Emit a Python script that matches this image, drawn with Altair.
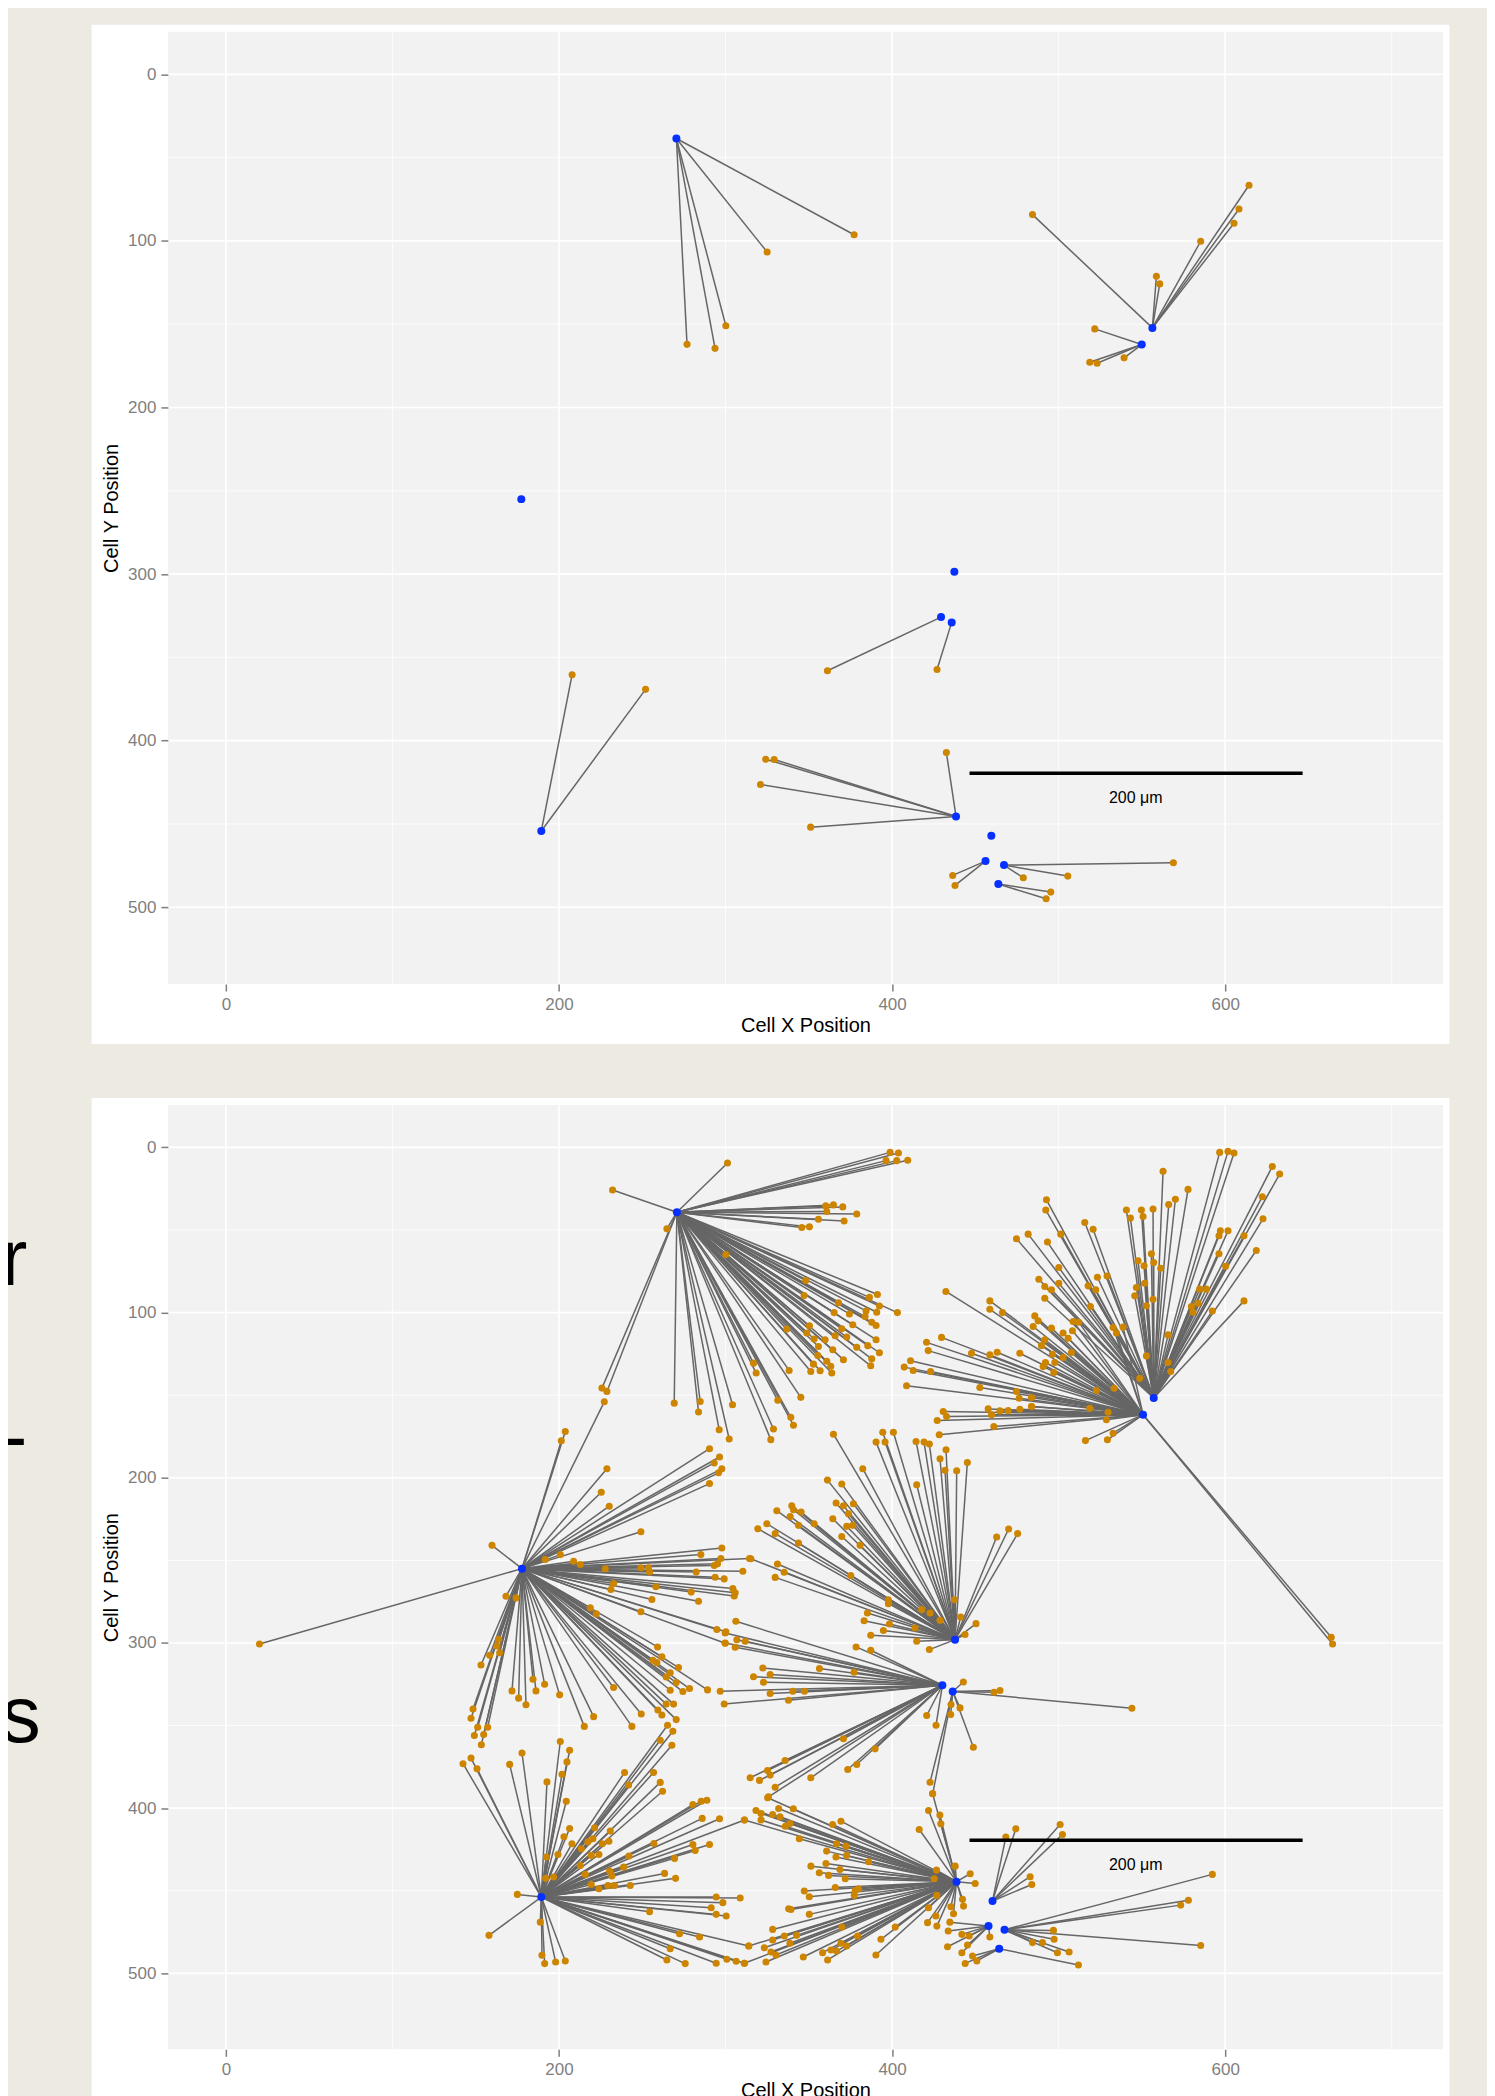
import altair as alt
import pandas as pd

BG = "#EDEAE2"
PANEL = "#F2F2F2"
ORANGE = "#CD8500"
BLUE = "#0530FF"
LINK = "#666666"

X_DOMAIN = [-34.8, 730.8]
TOP_Y_DOMAIN = [-25.6, 546.1]
BOT_Y_DOMAIN = [-25.7, 546.0]
X_TICKS = [0, 200, 400, 600]
Y_TICKS = [0, 100, 200, 300, 400, 500]
X_MINOR = [100, 300, 500, 700]
Y_MINOR = [50, 150, 250, 350, 450]
SCALE_BAR = [446.5, 646.5, 419.5]
SCALE_LABEL = [546.3, 434.2, "200 μm"]
SIDE_LETTERS = [("r", 180), ("-", 358), ("s", 637)]

# ---------------- top panel: cells (blue) and their linked neighbours (orange)
TOP_CELLS = [(270.5, 38.5), (556.3, 152.2), (549.9, 162.2), (177.4, 255.0),
             (437.4, 298.6), (429.4, 325.8), (435.8, 329.0), (189.4, 454.2),
             (438.4, 445.5), (459.6, 457.1), (456.1, 472.3), (467.2, 474.7),
             (463.8, 486.1)]
TOP_LINKS = [
    [(377.2, 96.3), (325.0, 106.7), (300.2, 150.9), (276.9, 162.1), (293.7, 164.5)],
    [(484.3, 84.2), (614.3, 66.6), (608.3, 80.8), (605.3, 89.4), (585.3, 100.2),
     (558.7, 121.2), (560.7, 125.8)],
    [(521.7, 152.8), (518.7, 172.8), (523.1, 173.4), (539.3, 170.2)],
    [],
    [],
    [(361.2, 358.0)],
    [(427.0, 357.3)],
    [(207.9, 360.4), (252.0, 369.2)],
    [(432.6, 407.1), (324.1, 411.1), (329.2, 411.3), (321.0, 426.3), (351.1, 451.9)],
    [],
    [(436.4, 480.9), (437.8, 486.9)],
    [(568.9, 473.3), (478.8, 482.3), (505.5, 481.3)],
    [(495.3, 490.9), (492.5, 494.9)],
]

# ---------------- bottom panel
BOTTOM_CELLS = [(270.8, 39.2), (557.1, 151.7), (550.7, 161.8), (177.8, 255.0),
                (437.8, 298.0), (430.2, 325.6), (436.4, 329.4), (189.4, 453.8),
                (438.7, 444.5), (460.3, 456.2), (457.9, 471.4), (467.5, 473.6),
                (464.3, 485.1)]
BOTTOM_LINKS = [
    # A
    [(301.2, 9.4), (232.2, 25.8), (398.8, 3.0), (403.8, 3.4), (396.4, 8.0), (402.8, 8.0),
     (409.4, 7.8), (360.2, 35.4), (364.8, 34.8), (370.4, 36.0), (360.8, 38.8), (378.8, 40.3),
     (355.8, 43.5), (371.2, 44.5), (345.8, 48.5), (350.4, 48.1), (264.8, 49.3), (300.2, 64.9),
     (348.2, 80.6), (347.2, 89.7), (391.2, 89.0), (386.4, 90.8), (392.4, 96.0), (367.8, 94.0),
     (403.2, 100.0), (365.2, 100.0), (374.4, 100.8), (384.4, 99.0), (390.8, 99.8),
     (383.8, 102.4), (387.8, 105.8), (390.4, 107.8), (376.4, 107.4), (336.8, 110.0),
     (350.4, 108.0), (348.8, 112.4), (353.2, 116.0), (359.8, 116.4), (365.8, 114.0),
     (369.8, 109.8), (372.8, 114.8), (378.8, 121.0), (385.4, 120.0), (390.4, 116.4),
     (392.4, 124.3), (387.8, 128.0), (387.2, 132.2), (370.8, 128.5), (364.4, 122.5),
     (355.8, 120.5), (355.4, 126.0), (352.8, 131.2), (360.8, 129.5), (363.2, 132.5),
     (363.8, 136.6), (356.8, 135.2), (351.2, 135.6), (338.2, 135.0), (316.8, 130.6),
     (318.4, 136.6), (345.2, 151.3), (331.4, 153.1), (339.2, 163.4), (340.8, 168.2),
     (328.8, 170.5), (327.2, 176.9), (304.2, 155.8), (284.8, 153.8), (283.8, 160.2),
     (269.2, 154.8), (296.2, 170.9), (302.2, 176.5), (225.8, 145.7), (228.8, 147.7)],
    # B1
    [(596.7, 3.0), (601.7, 2.4), (605.3, 3.4), (628.3, 11.5), (632.7, 16.1), (562.7, 14.5),
     (577.7, 25.4), (570.1, 31.4), (566.1, 34.6), (540.7, 37.9), (549.7, 37.9), (556.7, 37.3),
     (543.1, 42.8), (550.7, 41.8), (622.3, 29.9), (622.7, 43.2), (597.1, 50.5), (601.7, 50.5),
     (596.3, 53.5), (611.3, 53.5), (618.7, 62.4), (596.3, 64.4), (600.3, 71.9), (555.7, 64.4),
     (547.7, 68.6), (557.1, 69.7), (551.3, 71.7), (561.3, 73.1), (546.7, 84.8), (551.7, 82.2),
     (545.7, 89.8), (556.7, 91.9), (552.7, 95.9), (584.7, 85.8), (588.7, 85.8), (583.7, 94.3),
     (579.7, 96.3), (580.7, 99.8), (592.3, 99.0), (611.3, 92.9), (565.7, 113.5), (552.7, 126.2),
     (565.7, 130.2), (567.3, 135.7), (548.7, 139.8), (492.7, 31.7), (492.3, 37.9), (515.7, 45.4),
     (520.7, 49.5), (474.7, 55.3), (481.7, 52.5), (493.3, 57.3), (501.3, 52.5), (500.1, 72.7),
     (488.1, 79.8), (491.7, 84.2), (495.7, 86.2), (500.1, 82.2), (523.3, 78.6), (529.1, 77.8),
     (517.7, 83.8), (522.3, 86.2), (491.7, 91.3), (519.1, 96.3)],
    # B2
    [(432.3, 87.2), (458.7, 92.9), (458.7, 98.0), (466.3, 100.0), (485.7, 102.0), (487.7, 105.0),
     (484.7, 108.4), (495.7, 109.4), (502.7, 112.4), (508.7, 105.4), (512.1, 105.8), (508.3, 111.0),
     (505.7, 115.5), (532.7, 109.0), (534.7, 112.4), (538.7, 108.8), (491.7, 116.5), (489.7, 120.0),
     (496.3, 125.2), (502.7, 127.2), (507.7, 124.2), (492.1, 130.2), (490.7, 132.7), (497.7, 130.2),
     (497.1, 136.3), (429.7, 115.0), (420.7, 118.0), (421.7, 123.0), (411.1, 129.2), (407.3, 133.0),
     (412.7, 135.0), (423.1, 135.7), (408.7, 144.3), (447.7, 124.6), (458.7, 125.6), (463.1, 124.0),
     (476.7, 124.6), (452.7, 145.3), (474.7, 147.8), (476.3, 151.8), (483.7, 151.4), (483.7, 156.8),
     (522.7, 147.2), (533.3, 145.8), (430.7, 159.9), (432.7, 162.9), (427.1, 165.3), (457.7, 158.3),
     (459.7, 161.9), (464.7, 159.5), (469.7, 159.3), (476.7, 158.5), (483.8, 156.8), (518.7, 157.9),
     (529.7, 160.3), (528.7, 164.9), (428.3, 174.0), (461.1, 169.0), (516.1, 177.5), (529.3, 177.0),
     (532.7, 173.0), (663.7, 296.6), (664.5, 300.6)],
    # L
    [(20.2, 300.6), (159.8, 240.9), (203.8, 172.0), (201.4, 177.6), (227.2, 154.0), (228.8, 194.5),
     (225.4, 208.8), (230.2, 217.2), (249.2, 232.7), (290.4, 182.4), (296.4, 187.4), (293.2, 191.0),
     (297.8, 194.6), (295.8, 197.0), (290.4, 203.5), (191.8, 249.5), (200.8, 246.5), (208.8, 250.5),
     (212.8, 252.5), (227.8, 255.1), (249.2, 254.5), (253.8, 254.5), (254.4, 257.1), (297.8, 242.5),
     (285.2, 246.5), (297.2, 248.9), (295.2, 252.1), (293.2, 253.1), (310.4, 256.6), (282.4, 257.0),
     (293.8, 260.2), (299.2, 261.2), (314.4, 248.9), (232.8, 264.0), (231.2, 267.6), (258.2, 266.0),
     (255.8, 273.7), (279.4, 269.2), (283.8, 274.7), (304.4, 267.0), (305.8, 269.6), (305.2, 271.6),
     (249.2, 281.1), (294.8, 291.8), (300.2, 293.2), (299.8, 300.2), (218.8, 278.7), (222.4, 282.3),
     (168.2, 271.7), (174.2, 272.7), (163.8, 297.8), (162.8, 301.8), (164.4, 305.9), (158.4, 307.5),
     (153.2, 313.3), (259.2, 302.4), (256.4, 310.5), (261.8, 308.4), (258.8, 311.9), (271.8, 314.9),
     (266.8, 318.0), (264.4, 320.6), (270.4, 324.0), (266.8, 328.6), (274.4, 329.4), (278.4, 327.6),
     (289.2, 328.4), (232.8, 327.0), (249.4, 343.0), (243.8, 350.5), (220.8, 344.6), (215.2, 350.5),
     (259.4, 340.6), (264.4, 337.0), (268.8, 337.0), (261.8, 343.6), (270.4, 346.4), (200.4, 331.4),
     (184.4, 322.0), (191.4, 325.0), (186.2, 329.0), (171.8, 329.0), (175.8, 333.4), (180.2, 337.4),
     (148.4, 340.0), (147.2, 345.6), (151.2, 351.0), (157.2, 351.0), (149.2, 356.0), (154.8, 355.4),
     (153.4, 361.6)],
    # C
    [(364.8, 173.6), (394.4, 172.4), (400.8, 172.4), (390.4, 178.4), (395.8, 178.4), (414.4, 178.0),
     (419.2, 178.4), (422.4, 179.6), (432.4, 183.0), (428.8, 188.5), (431.8, 195.5), (438.8, 195.7),
     (445.2, 190.7), (382.4, 194.5), (361.2, 201.4), (369.8, 203.8), (414.8, 204.2), (366.4, 215.3),
     (370.8, 216.9), (376.8, 215.7), (373.8, 221.8), (372.8, 229.4), (376.4, 228.8), (364.4, 224.8),
     (369.8, 235.5), (380.8, 240.9), (330.8, 219.9), (339.8, 216.9), (340.8, 219.3), (345.4, 220.7),
     (338.8, 223.4), (353.2, 227.8), (343.8, 228.8), (319.4, 230.8), (324.8, 227.8), (329.8, 233.8),
     (343.8, 239.5), (315.2, 249.0), (331.2, 252.2), (335.2, 257.2), (329.8, 260.3), (375.2, 259.2),
     (397.8, 273.8), (397.8, 276.2), (417.8, 279.8), (422.8, 281.8), (428.8, 286.3), (385.2, 281.8),
     (383.2, 286.5), (398.4, 288.5), (394.8, 292.5), (387.2, 295.3), (413.8, 290.9), (414.8, 299.0),
     (422.4, 304.0), (437.4, 273.8), (441.2, 284.3), (450.4, 288.3), (443.8, 294.9), (462.8, 235.9),
     (470.0, 231.0), (475.4, 233.8)],
    # C2
    [(306.2, 286.9), (299.8, 294.0), (299.8, 300.0), (306.8, 298.0), (311.8, 299.0), (305.8, 302.6),
     (378.4, 302.4), (387.2, 304.4), (322.4, 315.1), (326.8, 319.1), (316.8, 320.5), (322.8, 323.8),
     (356.4, 315.5), (377.2, 317.7), (296.8, 329.2), (326.8, 330.6), (340.4, 329.2), (347.4, 329.2),
     (337.8, 334.7), (299.2, 336.9), (370.8, 358.0), (389.8, 364.1), (335.8, 371.1), (325.2, 377.2),
     (326.8, 380.0), (314.8, 381.6), (320.4, 383.2), (351.2, 381.6), (373.4, 376.6), (378.8, 373.6),
     (329.8, 387.3), (325.8, 393.1), (420.8, 343.9), (426.4, 349.8)],
    # C3
    [(442.8, 323.6), (461.2, 329.8), (464.8, 328.8), (435.4, 337.3), (440.8, 339.3), (435.2, 343.3),
     (448.8, 363.1), (422.8, 384.3), (424.4, 391.3), (544.0, 339.5)],
    # D
    [(265.2, 349.8), (268.4, 353.4), (260.8, 358.9), (267.8, 361.9), (239.4, 378.4), (241.8, 386.0),
     (256.8, 378.4), (260.8, 384.4), (262.2, 389.8), (280.4, 397.8), (285.4, 395.8), (288.8, 395.2),
     (200.8, 359.6), (206.4, 365.0), (204.8, 372.0), (201.8, 379.5), (192.8, 384.1), (204.4, 395.8),
     (177.8, 366.6), (170.4, 373.5), (142.4, 373.1), (147.2, 369.7), (150.8, 376.1), (286.0, 406.2),
     (296.4, 406.4), (311.4, 407.2), (206.4, 412.3), (203.0, 417.3), (221.4, 411.9), (230.8, 413.9),
     (207.8, 421.6), (213.4, 424.6), (217.4, 420.4), (220.4, 418.5), (226.0, 421.6), (230.0, 420.0),
     (192.4, 429.6), (199.4, 428.0), (219.4, 428.6), (224.0, 428.0), (242.0, 429.0), (257.0, 421.4),
     (280.4, 422.0), (281.8, 425.6), (290.4, 422.0), (269.4, 430.4), (212.8, 434.7), (215.8, 440.1),
     (230.4, 438.1), (231.8, 441.1), (238.8, 435.7), (263.4, 439.5), (270.0, 442.5), (192.0, 442.5),
     (196.8, 441.7), (219.4, 446.2), (224.0, 448.8), (229.4, 446.8), (233.4, 446.8), (242.8, 446.8),
     (175.0, 452.2), (294.4, 453.8), (308.8, 454.4), (298.4, 457.2), (291.4, 460.3), (294.4, 464.3),
     (300.4, 465.3), (254.4, 462.7), (158.0, 477.0), (188.8, 469.0), (189.8, 489.1), (191.4, 494.1),
     (198.0, 493.1), (203.8, 492.5), (272.4, 476.0), (284.4, 478.0), (314.0, 483.5), (266.8, 485.1),
     (264.8, 491.9), (275.8, 494.1), (294.4, 493.9), (300.8, 491.5), (306.4, 492.7), (311.4, 493.9)],
    # E
    [(424.3, 391.1), (421.9, 401.4), (428.7, 404.2), (429.3, 409.5), (416.3, 412.9), (437.9, 435.1),
     (426.7, 437.5), (425.3, 442.7), (446.9, 439.7), (449.9, 445.6), (426.9, 452.8), (421.9, 460.3),
     (435.3, 459.7), (436.9, 463.9), (442.3, 455.2), (442.9, 459.3), (426.3, 465.3), (421.3, 469.3),
     (426.9, 471.4), (325.3, 393.7), (318.3, 401.4), (321.3, 403.2), (321.3, 407.2), (328.3, 403.8),
     (331.9, 400.2), (332.7, 405.2), (335.9, 410.9), (338.7, 409.3), (340.7, 400.4), (311.3, 407.2),
     (344.3, 418.5), (364.3, 409.9), (369.3, 407.9), (360.7, 426.0), (366.7, 421.6), (372.3, 423.0),
     (366.3, 429.6), (372.7, 428.6), (385.9, 432.4), (351.3, 435.1), (360.3, 433.5), (356.3, 439.1),
     (361.9, 440.7), (368.7, 437.1), (371.9, 442.7), (347.3, 450.2), (350.3, 453.6), (365.9, 448.0),
     (377.9, 449.8), (379.9, 448.8), (377.3, 452.8), (337.9, 460.9), (339.3, 461.3), (350.3, 464.3),
     (328.3, 473.4), (335.3, 477.4), (328.3, 479.8), (342.7, 477.0), (338.7, 481.8), (369.9, 472.0),
     (379.3, 477.4), (393.3, 479.4), (401.9, 472.0), (323.3, 484.5), (327.3, 487.1), (330.3, 488.9),
     (324.3, 493.1), (346.7, 490.1), (358.3, 487.5), (361.3, 491.9), (363.3, 485.9), (366.7, 486.5),
     (369.3, 481.8), (372.7, 483.5), (390.3, 488.9), (311.3, 493.9), (313.9, 483.5)],
    # S1
    [(468.3, 417.5), (474.3, 412.5), (500.9, 409.9), (502.3, 415.9), (482.9, 441.5), (483.9, 446.2)],
    # S2
    [(434.7, 469.0), (433.7, 474.4), (441.9, 476.4), (446.3, 477.4), (433.3, 483.9), (445.3, 482.9),
     (441.9, 487.5), (458.7, 478.0)],
    # S3
    [(496.9, 474.0), (497.3, 479.4), (484.3, 481.4), (490.3, 481.4), (499.3, 487.5), (506.3, 487.1),
     (585.3, 483.1), (573.3, 458.7), (577.9, 455.8), (592.3, 440.1)],
    # S4
    [(443.9, 494.0), (450.9, 492.5), (448.3, 489.5), (511.9, 494.9)],
]

W = 1276
FONT = "Liberation Sans"
LEFT_EDGE = -167.3


def panel(cells, links, y_domain, height, top_extra, white_bottom, letters):
    sx = alt.Scale(domain=X_DOMAIN, nice=False, zero=False)
    sy = alt.Scale(domain=y_domain, nice=False, zero=False, reverse=True)
    common = dict(grid=False, domain=False, labelColor="#7F7F7F", labelFontSize=17,
                  labelFont=FONT, tickColor="#7F7F7F", tickSize=7, tickWidth=1.5,
                  labelPadding=5, titleColor="black", titleFontSize=20, titleFont=FONT,
                  titleFontWeight="normal", zindex=1, format="d")
    ax = alt.Axis(values=X_TICKS, title="Cell X Position", titlePadding=3, **common)
    ay = alt.Axis(values=Y_TICKS, title="Cell Y Position", titlePadding=6, **common)

    def X(f):
        return alt.X(f, type="quantitative", scale=sx, axis=ax)

    def Y(f):
        return alt.Y(f, type="quantitative", scale=sy, axis=ay)

    one = pd.DataFrame({"k": [0]})
    spacer = alt.Chart(one).mark_rect(color=BG).encode(
        x=alt.value(LEFT_EDGE), x2=alt.value(W + 43.7),
        y=alt.value(-top_extra), y2=alt.value(white_bottom))
    white = alt.Chart(one).mark_rect(color="white").encode(
        x=alt.value(-76.3), x2=alt.value(W + 6.4),
        y=alt.value(-7), y2=alt.value(white_bottom))
    gray = alt.Chart(one).mark_rect(color=PANEL).encode(
        x=alt.value(0), x2=alt.value(W), y=alt.value(0), y2=alt.value(height))

    vmin = alt.Chart(pd.DataFrame({"v": X_MINOR})).mark_rule(color="white", strokeWidth=0.8).encode(x=X("v"))
    hmin = alt.Chart(pd.DataFrame({"v": Y_MINOR})).mark_rule(color="white", strokeWidth=0.8).encode(y=Y("v"))
    vmaj = alt.Chart(pd.DataFrame({"v": X_TICKS})).mark_rule(color="white", strokeWidth=1.6).encode(x=X("v"))
    hmaj = alt.Chart(pd.DataFrame({"v": Y_TICKS})).mark_rule(color="white", strokeWidth=1.6).encode(y=Y("v"))

    rows = []
    ends = []
    for (cx, cy), lst in zip(cells, links):
        for (ex, ey) in lst:
            rows.append({"x": cx, "y": cy, "x2": ex, "y2": ey})
            ends.append({"x": ex, "y": ey})
    link_df = pd.DataFrame(rows)
    end_df = pd.DataFrame(ends)
    cell_df = pd.DataFrame({"x": [c[0] for c in cells], "y": [c[1] for c in cells]})

    seg = alt.Chart(link_df).mark_rule(color=LINK, strokeWidth=1.5).encode(
        x=X("x"), y=Y("y"), x2="x2", y2="y2")
    orange = alt.Chart(end_df).mark_circle(color=ORANGE, opacity=1, size=50).encode(x=X("x"), y=Y("y"))
    blue = alt.Chart(cell_df).mark_circle(color=BLUE, opacity=1, size=64).encode(x=X("x"), y=Y("y"))

    bar = alt.Chart(pd.DataFrame({"x": [SCALE_BAR[0]], "x2": [SCALE_BAR[1]], "y": [SCALE_BAR[2]]})).mark_rule(
        color="black", strokeWidth=3.5).encode(x=X("x"), x2="x2", y=Y("y"))
    lab = alt.Chart(pd.DataFrame({"x": [SCALE_LABEL[0]], "y": [SCALE_LABEL[1]], "t": [SCALE_LABEL[2]]})).mark_text(
        fontSize=16, font=FONT, color="black", align="center", baseline="middle").encode(
        x=X("x"), y=Y("y"), text="t:N")

    layers = [spacer, white, gray, vmin, hmin, vmaj, hmaj, seg, orange, blue, bar, lab]
    if letters:
        for ch, yy in SIDE_LETTERS:
            layers.append(alt.Chart(one).mark_text(
                fontSize=80, font=FONT, color="black", align="left", baseline="alphabetic").encode(
                x=alt.value(LEFT_EDGE), y=alt.value(yy), text=alt.value(ch)))
    return alt.layer(*layers).properties(width=W, height=height)


top = panel(TOP_CELLS, TOP_LINKS, TOP_Y_DOMAIN, 953, 23, 1013, False)
bottom = panel(BOTTOM_CELLS, BOTTOM_LINKS, BOT_Y_DOMAIN, 945, 7, 1000, True)

chart = alt.vconcat(top, bottom, spacing=54).properties(
    padding={"left": -8, "top": 0, "right": 0, "bottom": 0}).configure(
    background=BG).configure_view(stroke=None)

chart.save("out.html", embed_options={"renderer": "svg", "actions": False})
